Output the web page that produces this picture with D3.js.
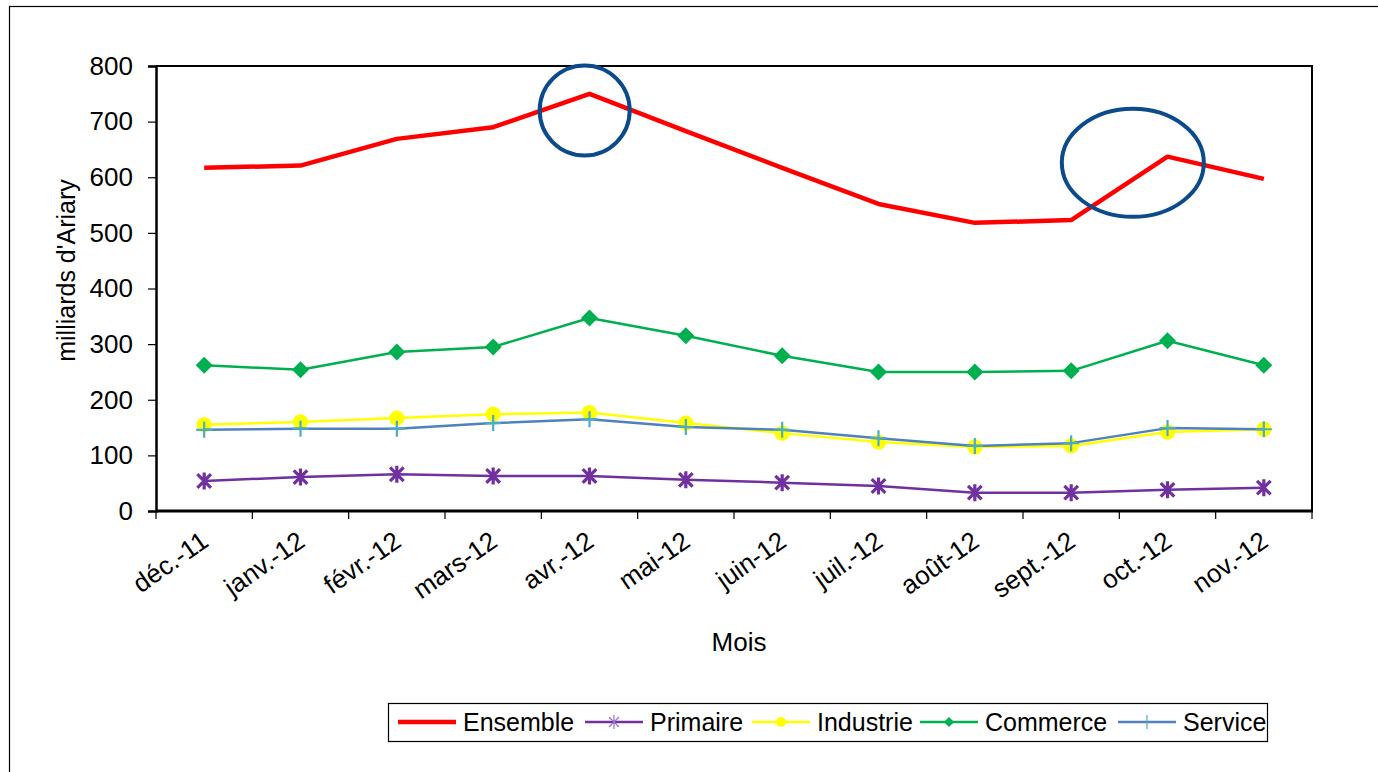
<!DOCTYPE html>
<html>
<head>
<meta charset="utf-8">
<script src="https://cdn.jsdelivr.net/npm/d3@7/dist/d3.min.js"></script>
<style>
  body { margin: 0; background: #fff; }
  text { font-family: "Liberation Sans", Arial, sans-serif; fill: #000; }
</style>
</head>
<body>
<script>
// months on the x axis
var months = ["déc.-11", "janv.-12", "févr.-12", "mars-12", "avr.-12", "mai-12",
              "juin-12", "juil.-12", "août-12", "sept.-12", "oct.-12", "nov.-12"];

// series values (milliards d'Ariary)
var ensemble  = [617, 621, 669, 690, 750, 683, 617, 552, 518, 523, 637, 597];
var primaire  = [54, 61, 66, 63, 63, 56, 51, 45, 33, 33, 38, 42];
var industrie = [155, 160, 167, 174, 177, 158, 140, 124, 115, 117, 142, 147];
var commerce  = [262, 254, 286, 295, 347, 315, 279, 250, 250, 252, 306, 262];
var service   = [146, 148, 148, 158, 165, 151, 146, 131, 117, 122, 149, 147];

var yTicks = [0, 100, 200, 300, 400, 500, 600, 700, 800];

// the two hand drawn circles (centre given in data units)
var circles = [
  {month: "avr.-12", shift: -0.05, value: 720, rx: 45, ry: 45},
  {month: "sept.-12", shift: 0.64, value: 626, rx: 71, ry: 54}
];

var series = [
  {name: "Ensemble",  values: ensemble,  color: "#ff0000", width: 4.5, marker: "none"},
  {name: "Primaire",  values: primaire,  color: "#7030a0", width: 2.5, marker: "star", mcolor: "#7030a0"},
  {name: "Industrie", values: industrie, color: "#ffff00", width: 2.5, marker: "circle", mcolor: "#ffff00"},
  {name: "Commerce",  values: commerce,  color: "#00b050", width: 2.5, marker: "diamond", mcolor: "#00b050"},
  {name: "Service",   values: service,   color: "#4f81bd", width: 2.5, marker: "plus", mcolor: "#4bacc6"}
];

var W = 1378, H = 772;
var svg = d3.select("body").append("svg").attr("width", W).attr("height", H);

// outer frame (runs past the picture on right/bottom)
svg.append("rect").attr("x", 9.5).attr("y", 6.5).attr("width", W + 20).attr("height", H + 20)
  .attr("fill", "none").attr("stroke", "#000").attr("stroke-width", 1.2);

var plotLeft = 156, plotRight = 1312, plotTop = 66, plotBottom = 511;

var x = d3.scaleBand().domain(months).range([plotLeft, plotRight]);
var y = d3.scaleLinear().domain([0, 800]).range([plotBottom, plotTop]);
var cx = function(i){ return x(months[i]) + x.bandwidth() / 2; };

// plot box top/right
svg.append("path")
  .attr("d", "M" + plotLeft + "," + plotTop + "H" + plotRight + "V" + plotBottom)
  .attr("fill", "none").attr("stroke", "#000").attr("stroke-width", 2);

// y axis
var yAxis = svg.append("g").attr("transform", "translate(" + plotLeft + ",0)")
  .call(d3.axisLeft(y).tickValues(yTicks).tickSize(8).tickPadding(15));
yAxis.select(".domain").attr("stroke-width", 2.5);
yAxis.selectAll(".tick line").attr("stroke-width", 1.2);
yAxis.selectAll("text").style("font-size", "26px").attr("font-family", null);

// x axis: ticks at the band edges
var xAxis = svg.append("g").attr("transform", "translate(0," + plotBottom + ")");
xAxis.append("line").attr("x1", plotLeft).attr("x2", plotRight + 1).attr("stroke", "#000").attr("stroke-width", 3);
xAxis.selectAll(".xt").data(months.concat(["end"])).enter().append("line")
  .attr("x1", function(d, i){ return i < months.length ? x(d) : plotRight; })
  .attr("x2", function(d, i){ return i < months.length ? x(d) : plotRight; })
  .attr("y1", 0).attr("y2", 8).attr("stroke", "#000").attr("stroke-width", 1.2);
xAxis.selectAll(".xl").data(months).enter().append("text")
  .attr("transform", function(d, i){ return "translate(" + (cx(i) + 6) + ",34) rotate(-35)"; })
  .attr("text-anchor", "end")
  .style("font-size", "26px")
  .text(function(d){ return d; });

// axis titles
svg.append("text").attr("transform", "translate(75," + ((plotTop + plotBottom) / 2 - 18) + ") rotate(-90)")
  .attr("text-anchor", "middle").style("font-size", "25px").text("milliards d'Ariary");
svg.append("text").attr("x", 739).attr("y", 651).attr("text-anchor", "middle")
  .style("font-size", "26px").text("Mois");

// markers
function drawMarker(g, type, color, px, py, s) {
  if (type === "circle") {
    g.append("circle").attr("cx", px).attr("cy", py).attr("r", s * 0.9).attr("fill", color);
  } else if (type === "diamond") {
    g.append("path").attr("d", "M" + px + "," + (py - s) + "L" + (px + s) + "," + py + "L" + px + "," + (py + s) + "L" + (px - s) + "," + py + "Z")
      .attr("fill", color);
  } else if (type === "plus") {
    g.append("path").attr("d", "M" + (px - s) + "," + py + "H" + (px + s) + "M" + px + "," + (py - s) + "V" + (py + s))
      .attr("stroke", color).attr("stroke-width", 2.2).attr("fill", "none");
  } else if (type === "star") {
    var k = s * 0.8;
    g.append("path").attr("d", "M" + (px - k) + "," + (py - k) + "L" + (px + k) + "," + (py + k) +
        "M" + (px + k) + "," + (py - k) + "L" + (px - k) + "," + (py + k) +
        "M" + px + "," + (py - s) + "V" + (py + s))
      .attr("stroke", color).attr("stroke-width", 3.2).attr("fill", "none");
  }
}

var line = d3.line().x(function(d, i){ return cx(i); }).y(function(d){ return y(d); });

series.forEach(function(s){
  var g = svg.append("g");
  g.append("path").datum(s.values).attr("d", line)
    .attr("fill", "none").attr("stroke", s.color).attr("stroke-width", s.width)
    .attr("stroke-linejoin", "round");
  if (s.marker !== "none") {
    s.values.forEach(function(v, i){
      drawMarker(g, s.marker, s.mcolor, cx(i), y(v), s.marker === "plus" ? 8 : 8.5);
    });
  }
});

// annotation circles
circles.forEach(function(c){
  svg.append("ellipse")
    .attr("cx", x(c.month) + x.bandwidth() / 2 + c.shift * x.bandwidth())
    .attr("cy", y(c.value))
    .attr("rx", c.rx).attr("ry", c.ry)
    .attr("fill", "none").attr("stroke", "#0b4a8b").attr("stroke-width", 4);
});

// legend
var lg = svg.append("g");
lg.append("rect").attr("x", 388.5).attr("y", 703.5).attr("width", 879).attr("height", 38)
  .attr("fill", "#fff").attr("stroke", "#000").attr("stroke-width", 1.2);
var legendX = [398, 585, 752, 920, 1118];
series.forEach(function(s, i){
  var lx = legendX[i], ly = 722;
  lg.append("line").attr("x1", lx).attr("x2", lx + 58).attr("y1", ly).attr("y2", ly)
    .attr("stroke", s.color).attr("stroke-width", s.width);
  if (s.marker === "star") {
    var k = 5;
    lg.append("path").attr("d", "M" + (lx + 29 - k) + "," + (ly - k) + "L" + (lx + 29 + k) + "," + (ly + k) +
        "M" + (lx + 29 + k) + "," + (ly - k) + "L" + (lx + 29 - k) + "," + (ly + k) +
        "M" + (lx + 29) + "," + (ly - 7) + "V" + (ly + 7))
      .attr("stroke", "#9a70d0").attr("stroke-width", 1.2).attr("fill", "none");
  } else if (s.marker === "circle") {
    lg.append("circle").attr("cx", lx + 29).attr("cy", ly).attr("r", 5).attr("fill", s.mcolor);
  } else if (s.marker === "diamond") {
    drawMarker(lg, "diamond", s.mcolor, lx + 29, ly, 5);
  } else if (s.marker === "plus") {
    lg.append("path").attr("d", "M" + (lx + 29) + "," + (ly - 7) + "V" + (ly + 7))
      .attr("stroke", s.mcolor).attr("stroke-width", 1.2);
  }
  lg.append("text").attr("x", lx + 65).attr("y", ly + 9).style("font-size", "25px").text(s.name);
});
</script>
</body>
</html>
